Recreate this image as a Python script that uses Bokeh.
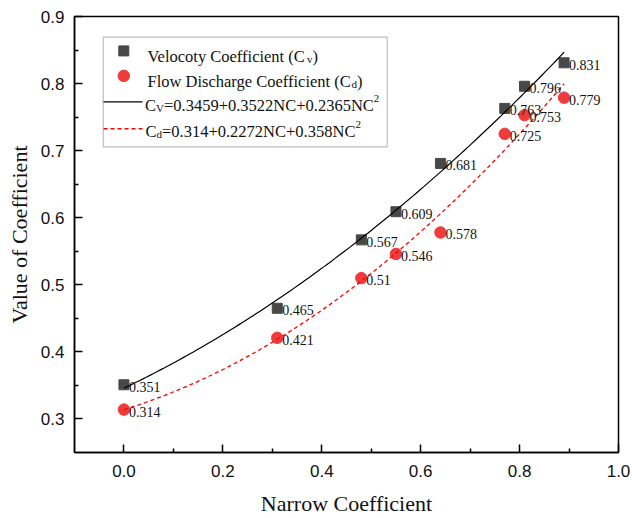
import numpy as np
from bokeh.plotting import figure
from bokeh.models import (FixedTicker, NumeralTickFormatter, Range1d, BoxAnnotation,
                          Label, Arrow, ColumnDataSource)
from bokeh.core.properties import value
from bokeh.embed import file_html
from bokeh.resources import INLINE

# ---------------- data ----------------
narrow = [0.0, 0.31, 0.48, 0.55, 0.64, 0.77, 0.81, 0.89]
cv = [0.351, 0.465, 0.567, 0.609, 0.681, 0.763, 0.796, 0.831]
cd = [0.314, 0.421, 0.51, 0.546, 0.578, 0.725, 0.753, 0.779]
cv_coef = [0.3459, 0.3522, 0.2365]   # Cv = a + b*NC + c*NC^2
cd_coef = [0.314, 0.2272, 0.358]     # Cd = a + b*NC + c*NC^2
x_ticks = [0.0, 0.2, 0.4, 0.6, 0.8, 1.0]
x_minor = [0.1, 0.3, 0.5, 0.7, 0.9]
y_ticks = [0.3, 0.4, 0.5, 0.6, 0.7, 0.8, 0.9]
y_minor = [0.35, 0.45, 0.55, 0.65, 0.75, 0.85]

# ---------------- layout ----------------
W, H = 632, 518
BL, BR, BT, BB = 74, 14, 16, 65
FW, FH = W - BL - BR, H - BT - BB
X0, X1, Y0, Y1 = -0.1, 1.0, 0.25, 0.9

def dx(px):
    return X0 + px * (X1 - X0) / FW

def dy(py):
    return Y1 - py * (Y1 - Y0) / FH

SERIF = "Liberation Serif"
SANS = "Liberation Sans"

p = figure(width=W, height=H, output_backend="svg", toolbar_location=None,
           x_range=Range1d(X0, X1), y_range=Range1d(Y0, Y1),
           min_border_left=BL, min_border_right=BR, min_border_top=BT,
           min_border_bottom=BB)
p.grid.visible = False
p.outline_line_color = "black"
p.outline_line_width = 1.5
p.background_fill_color = "white"
p.border_fill_color = "white"

for ax, ticks, minor in ((p.xaxis[0], x_ticks, x_minor), (p.yaxis[0], y_ticks, y_minor)):
    ax.ticker = FixedTicker(ticks=ticks, minor_ticks=minor)
    ax.formatter = NumeralTickFormatter(format="0.0")
    ax.axis_line_width = 1.5
    ax.major_tick_line_width = 1.5
    ax.minor_tick_line_width = 1.5
    ax.major_tick_in = 8
    ax.major_tick_out = 0
    ax.minor_tick_in = 4
    ax.minor_tick_out = 0
    ax.major_label_text_font = SANS
    ax.major_label_text_font_size = "17px"
    ax.major_label_text_color = "#111111"
    ax.axis_label_text_font = SERIF
    ax.axis_label_text_font_size = "22px"
    ax.axis_label_text_font_style = "normal"
    ax.axis_label_text_color = "#111111"

p.xaxis.axis_label = "Narrow Coefficient"
p.yaxis.axis_label = "Value of Coefficient"
p.xaxis.major_label_standoff = 12
p.yaxis.major_label_standoff = 10
p.xaxis.axis_label_standoff = 11
p.yaxis.axis_label_standoff = 6

# ---------------- data marks ----------------
src = ColumnDataSource(dict(
    nc=narrow, cv=cv, cd=cd,
    cv_txt=[f"{v:g}" for v in cv], cd_txt=[f"{v:g}" for v in cd]))

SQ_COLOR = "#484848"
CI_COLOR = "#ef3b3b"
p.scatter("nc", "cv", source=src, marker="square", size=10,
          fill_color=SQ_COLOR, line_color=SQ_COLOR)
p.scatter("nc", "cd", source=src, marker="circle", size=11.5,
          fill_color=CI_COLOR, line_color=CI_COLOR)

nc_fit = np.linspace(0.0, max(narrow), 120)
cv_fit = cv_coef[0] + cv_coef[1] * nc_fit + cv_coef[2] * nc_fit ** 2
cd_fit = cd_coef[0] + cd_coef[1] * nc_fit + cd_coef[2] * nc_fit ** 2
p.line(nc_fit, cv_fit, line_color="black", line_width=1.2)
p.line(nc_fit, cd_fit, line_color="#ff0000", line_width=1.3, line_dash="4 3")

for col, txt in (("cv", "cv_txt"), ("cd", "cd_txt")):
    p.text("nc", col, text=txt, source=src, x_offset=5, y_offset=2,
           text_font=value(SERIF), text_font_size="14px", text_color="#111111",
           text_baseline="middle", text_align="left")

# ---------------- legend (drawn by hand for sub/superscripts) ----------------
p.add_layout(BoxAnnotation(left=dx(28.7), right=dx(312.7), top=dy(20.7), bottom=dy(130.7),
                           fill_color="white", fill_alpha=1.0, line_color="#222222",
                           line_width=1.2, level="underlay"))
p.scatter([dx(49.3)], [dy(34.5)], marker="square", size=10,
          fill_color=SQ_COLOR, line_color=SQ_COLOR)
p.scatter([dx(49.3)], [dy(59.5)], marker="circle", size=11.5,
          fill_color=CI_COLOR, line_color=CI_COLOR)
p.add_layout(Arrow(end=None, x_start=dx(29), y_start=dy(85.5), x_end=dx(68), y_end=dy(85.5),
                   line_color="black", line_width=1.2))
p.add_layout(Arrow(end=None, x_start=dx(29), y_start=dy(112.5), x_end=dx(68), y_end=dy(112.5),
                   line_color="#ff0000", line_width=1.3, line_dash="4 3"))

TW = {' ': 250, '(': 333, ')': 333, '+': 564, '=': 564, '.': 250, 'C': 667, 'N': 722,
      'V': 722, 'F': 556, 'D': 722, 'a': 444, 'c': 444, 'd': 500, 'e': 444, 'f': 333,
      'g': 500, 'h': 500, 'i': 278, 'l': 278, 'n': 500, 'o': 500, 'r': 333, 's': 389,
      't': 278, 'v': 500, 'w': 722, 'y': 500}

def text_w(s, size):
    return sum(TW.get(ch, 500) for ch in s) * size / 1000.0

MAIN, SMALL = 16.5, 11
rows = [
    (73, 40, [("Velocoty Coefficient (C", "n"), ("v", "sub"), (")", "n")]),
    (73, 65, [("Flow Discharge Coefficient (C", "n"), ("d", "sub"), (")", "n")]),
    (70.5, 89, [("C", "n"), ("V", "sub"), ("=0.3459+0.3522NC+0.2365NC", "n"), ("2", "sup")]),
    (71, 115, [("C", "n"), ("d", "sub"), ("=0.314+0.2272NC+0.358NC", "n"), ("2", "sup")]),
]
for x_start, base, segs in rows:
    xpos = x_start
    for s, kind in segs:
        size = MAIN if kind == "n" else SMALL
        yb = base + (3 if kind == "sub" else (-7 if kind == "sup" else 0))
        p.add_layout(Label(x=dx(xpos), y=dy(yb), text=s, text_font=SERIF,
                           text_font_size=f"{size}px", text_color="#111111",
                           text_baseline="alphabetic", text_align="left"))
        xpos += text_w(s, size)

open("out.html", "w").write(file_html(p, INLINE))
